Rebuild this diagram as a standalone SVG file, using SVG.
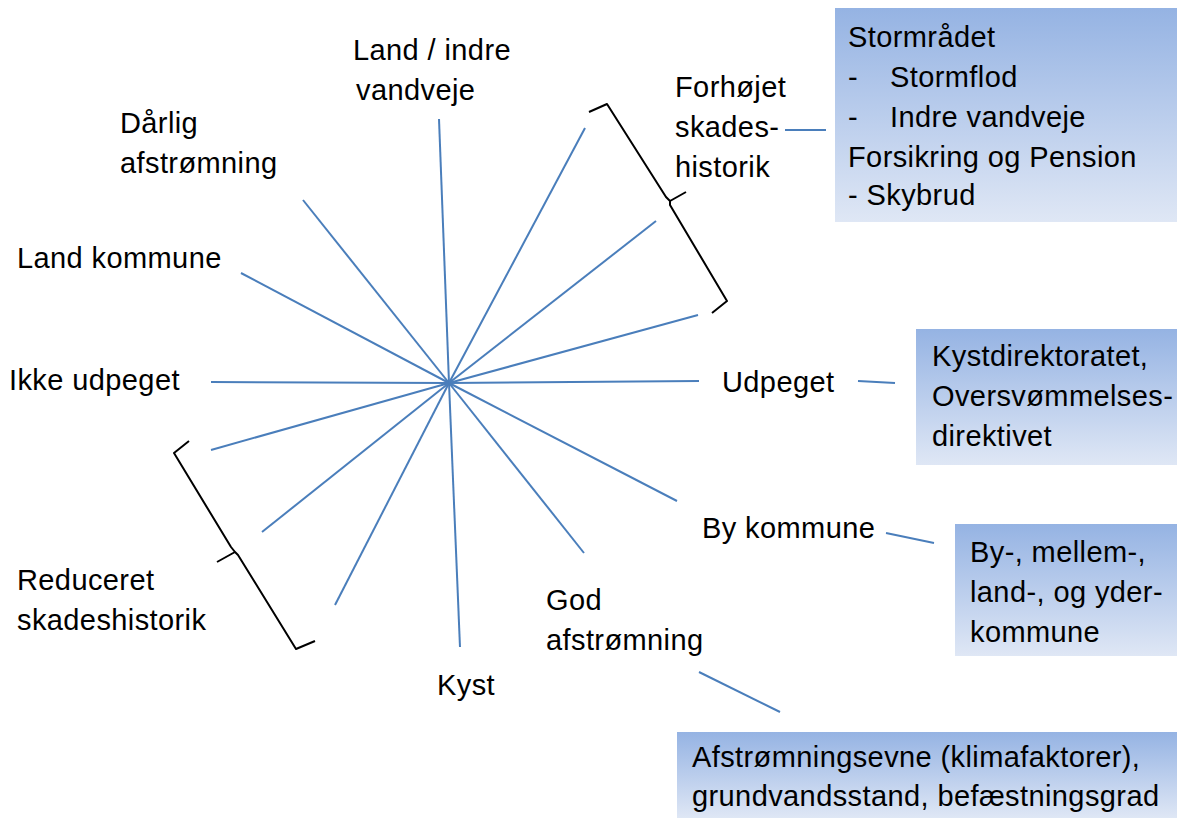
<svg xmlns="http://www.w3.org/2000/svg" width="1177" height="818" viewBox="0 0 1177 818">
<style>
text{font-family:"Liberation Sans",Arial,sans-serif;font-size:29px;letter-spacing:0.4px;fill:#000}
.ray{stroke:#4a7ebb;stroke-width:2;fill:none}
.br{stroke:#000;stroke-width:2;fill:none;stroke-linejoin:round}
.box{fill:url(#g)}
</style>
<defs>
<linearGradient id="g" x1="0" y1="0" x2="0" y2="1">
<stop offset="0" stop-color="#95b3e3"/>
<stop offset="1" stop-color="#dfe7f5"/>
</linearGradient>
</defs>
<rect width="1177" height="818" fill="#fff"/>
<g id="connectors">
<line class="ray" x1="449" y1="383" x2="439" y2="119"/>
<line class="ray" x1="449" y1="383" x2="303" y2="200"/>
<line class="ray" x1="449" y1="383" x2="241" y2="273"/>
<line class="ray" x1="449" y1="383" x2="211" y2="382"/>
<line class="ray" x1="449" y1="383" x2="211" y2="450"/>
<line class="ray" x1="449" y1="383" x2="262" y2="532"/>
<line class="ray" x1="449" y1="383" x2="335" y2="605"/>
<line class="ray" x1="449" y1="383" x2="460" y2="647"/>
<line class="ray" x1="449" y1="383" x2="584" y2="553"/>
<line class="ray" x1="449" y1="383" x2="677" y2="501"/>
<line class="ray" x1="449" y1="383" x2="699" y2="381"/>
<line class="ray" x1="449" y1="383" x2="698" y2="315"/>
<line class="ray" x1="449" y1="383" x2="656" y2="221"/>
<line class="ray" x1="449" y1="383" x2="585" y2="128"/>
<line class="ray" x1="785" y1="130" x2="826" y2="130"/>
<line class="ray" x1="858" y1="381" x2="895" y2="383"/>
<line class="ray" x1="886" y1="533" x2="934" y2="543"/>
<line class="ray" x1="699" y1="672" x2="780" y2="712"/>
<path class="br" d="M589,112 L607,104 L666,197 L670,201 L686,192 M670,201 L670,205 L727,301 L712,313"/>
<path class="br" d="M189,441 L174,453 L231,547 L235,552 L217,562 M235,552 L238,555 L296,649 L315,641"/>
</g>
<g id="n-land-indre"><text x="353" y="60">Land / indre</text><text x="356" y="100">vandveje</text></g>
<g id="n-forhojet"><text x="675" y="97">Forhøjet</text><text x="675" y="137">skades-</text><text x="675" y="177">historik</text></g>
<g id="n-darlig"><text x="120" y="133">Dårlig</text><text x="120" y="173">afstrømning</text></g>
<g id="n-land-kommune"><text x="17" y="268">Land kommune</text></g>
<g id="n-ikke"><text x="9" y="390">Ikke udpeget</text></g>
<g id="n-udpeget"><text x="722" y="392">Udpeget</text></g>
<g id="n-by"><text x="702" y="538">By kommune</text></g>
<g id="n-god"><text x="546" y="610">God</text><text x="546" y="650">afstrømning</text></g>
<g id="n-kyst"><text x="437" y="695">Kyst</text></g>
<g id="n-reduceret"><text x="17" y="590">Reduceret</text><text x="17" y="630">skadeshistorik</text></g>
<g id="box-storm"><rect class="box" x="835" y="8" width="342" height="214"/>
<text x="848" y="47">Stormrådet</text>
<text x="848" y="87">-</text><text x="890" y="87">Stormflod</text>
<text x="848" y="127">-</text><text x="890" y="127">Indre vandveje</text>
<text x="848" y="167">Forsikring og Pension</text>
<text x="848" y="205">- Skybrud</text></g>
<g id="box-kyst"><rect class="box" x="916" y="329" width="261" height="136"/>
<text x="932" y="366">Kystdirektoratet,</text><text x="932" y="406">Oversvømmelses-</text><text x="932" y="446">direktivet</text></g>
<g id="box-by"><rect class="box" x="955" y="524" width="222" height="132"/>
<text x="970" y="562">By-, mellem-,</text><text x="970" y="602">land-, og yder-</text><text x="970" y="642">kommune</text></g>
<g id="box-afstr"><rect class="box" x="677" y="732" width="500" height="86"/>
<text x="692" y="767">Afstrømningsevne (klimafaktorer),</text><text x="692" y="806">grundvandsstand, befæstningsgrad</text></g>
</svg>
